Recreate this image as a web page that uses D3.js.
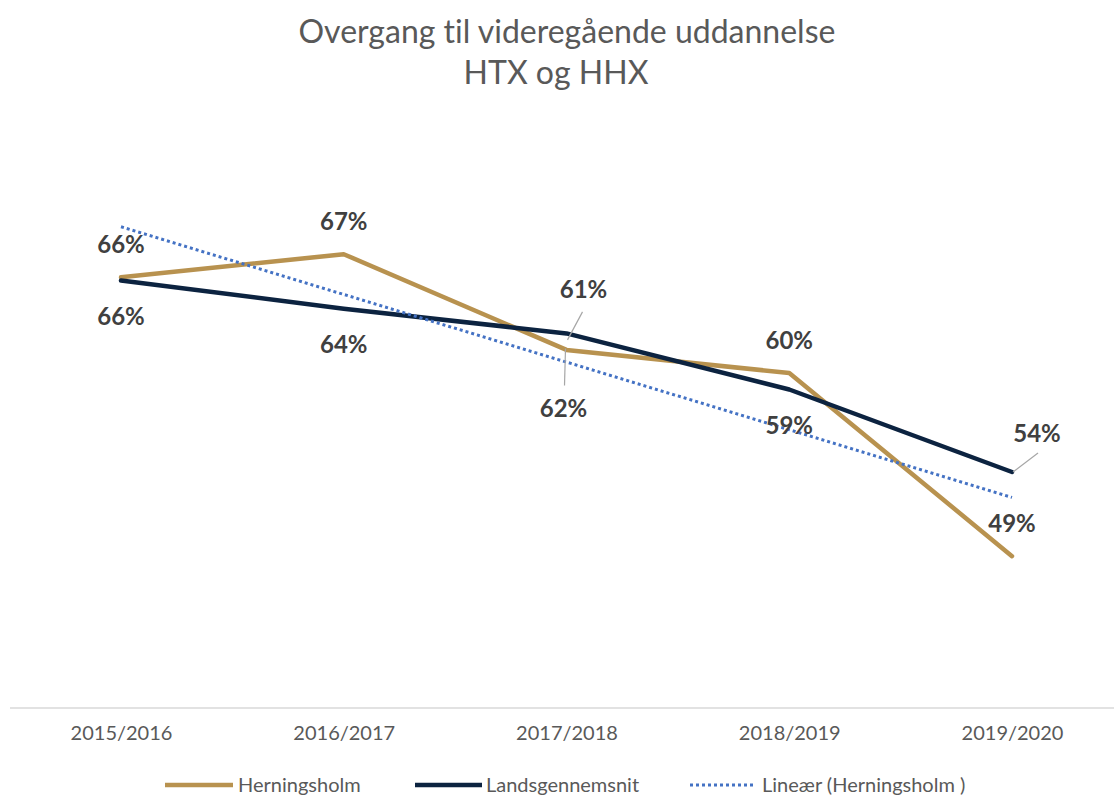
<!DOCTYPE html>
<html>
<head>
<meta charset="utf-8">
<script src="https://cdn.jsdelivr.net/npm/d3@7/dist/d3.min.js"></script>
<style>
  html, body { margin: 0; padding: 0; background: #fff; }
  svg { display: block; }
  text { font-variant-ligatures: none; }
</style>
</head>
<body>
<svg id="chart" width="1114" height="796"></svg>
<script>
// ---- data ----
const categories = ["2015/2016", "2016/2017", "2017/2018", "2018/2019", "2019/2020"];
const herningsholm = [65.8, 67.2, 61.4, 60.0, 48.9];
const landsgennemsnit = [65.6, 63.9, 62.4, 59.0, 54.0];
const seriesNames = ["Herningsholm", "Landsgennemsnit", "Lineær (Herningsholm )"];
const titleLines = ["Overgang til videregående uddannelse", "HTX og HHX"];

// ---- layout ----
const W = 1114, H = 796;
const svg = d3.select("#chart");
const FONT = "Lato, 'Open Sans', sans-serif";
const GOLD = "#B8924F", NAVY = "#0C2340", TREND = "#4472C4";

const x = d3.scalePoint().domain(categories).range([121, 1012]);
const y = d3.scaleLinear().domain([40, 70]).range([703, 208]);

// title
svg.append("text").attr("x", 567).attr("y", 43).attr("text-anchor", "middle")
  .attr("font-family", FONT).attr("font-weight", 400).attr("font-size", 32)
  .attr("fill", "#595959").text(titleLines[0]);
svg.append("text").attr("x", 556).attr("y", 84).attr("text-anchor", "middle")
  .attr("font-family", FONT).attr("font-weight", 400).attr("font-size", 32)
  .attr("fill", "#595959").text(titleLines[1]);

// x axis
const xAxis = d3.axisBottom(x).tickSize(0).tickPadding(18);
const gx = svg.append("g").attr("transform", "translate(0,708)").call(xAxis);
gx.select(".domain").remove();
gx.append("line").attr("x1", 10).attr("x2", W).attr("y1", 0).attr("y2", 0)
  .attr("stroke", "#D9D9D9").attr("stroke-width", 1.5);
gx.selectAll(".tick text").attr("font-family", FONT).attr("font-size", 20)
  .attr("fill", "#595959").attr("dy", "0.71em");

// lines
const line = d3.line().x((d, i) => x(categories[i])).y(d => y(d));
svg.append("path").datum(herningsholm).attr("d", line).attr("fill", "none")
  .attr("stroke", GOLD).attr("stroke-width", 4.5).attr("stroke-linejoin", "round").attr("stroke-linecap", "round");
svg.append("path").datum(landsgennemsnit).attr("d", line).attr("fill", "none")
  .attr("stroke", NAVY).attr("stroke-width", 4.5).attr("stroke-linejoin", "round").attr("stroke-linecap", "round");

// linear trend (least squares on Herningsholm)
const idx = herningsholm.map((d, i) => i);
const mx = d3.mean(idx), my = d3.mean(herningsholm);
const slope = d3.sum(idx, i => (i - mx) * (herningsholm[i] - my)) / d3.sum(idx, i => (i - mx) ** 2);
const icpt = my - slope * mx;
const trend = idx.map(i => icpt + slope * i);
svg.append("path").datum([trend[0], trend[trend.length - 1]])
  .attr("d", d3.line().x((d, i) => x(categories[i === 0 ? 0 : categories.length - 1])).y(d => y(d)))
  .attr("fill", "none").attr("stroke", TREND).attr("stroke-width", 3).attr("stroke-dasharray", "3 3");

// data labels
const fmt = v => Math.round(v) + "%";
const labelG = svg.append("g").attr("font-family", FONT).attr("font-weight", 700)
  .attr("font-size", 24).attr("fill", "#404040").attr("text-anchor", "middle");
function label(cx, cy, txt) {
  labelG.append("text").attr("x", cx).attr("y", cy).attr("dy", "0.36em").text(txt);
}
function leader(x1, y1, x2, y2) {
  svg.append("line").attr("x1", x1).attr("y1", y1).attr("x2", x2).attr("y2", y2)
    .attr("stroke", "#A6A6A6").attr("stroke-width", 1.2);
}
herningsholm.forEach((v, i) => {
  const px = x(categories[i]), py = y(v);
  if (i === 2) {
    leader(px + 16, py - 38, px + 1, py - 10);
    label(px + 17, py - 61, fmt(v));
  } else {
    label(px, py - 33, fmt(v));
  }
});
landsgennemsnit.forEach((v, i) => {
  const px = x(categories[i]), py = y(v);
  if (i === 2) {
    leader(px - 2, py + 52, px - 1, py + 15);
    label(px - 3, py + 75, fmt(v));
  } else if (i === 4) {
    leader(px + 1, py, px + 26, py - 19);
    label(px + 25, py - 39, fmt(v));
  } else {
    label(px, py + 36, fmt(v));
  }
});

// legend
const legY = 785;
const leg = svg.append("g").attr("font-family", FONT).attr("font-size", 20).attr("fill", "#595959");
const legendItems = [
  { name: seriesNames[0], color: GOLD, x0: 165, x1: 233, w: 4.5, dash: null, tx: 238 },
  { name: seriesNames[1], color: NAVY, x0: 415, x1: 482, w: 4.5, dash: null, tx: 486 },
  { name: seriesNames[2], color: TREND, x0: 690, x1: 755, w: 3, dash: "3 3", tx: 762 }
];
legendItems.forEach(it => {
  leg.append("line").attr("x1", it.x0).attr("x2", it.x1).attr("y1", legY).attr("y2", legY)
    .attr("stroke", it.color).attr("stroke-width", it.w).attr("stroke-dasharray", it.dash);
  leg.append("text").attr("x", it.tx).attr("y", legY).attr("dy", "0.35em").text(it.name);
});
</script>
</body>
</html>
